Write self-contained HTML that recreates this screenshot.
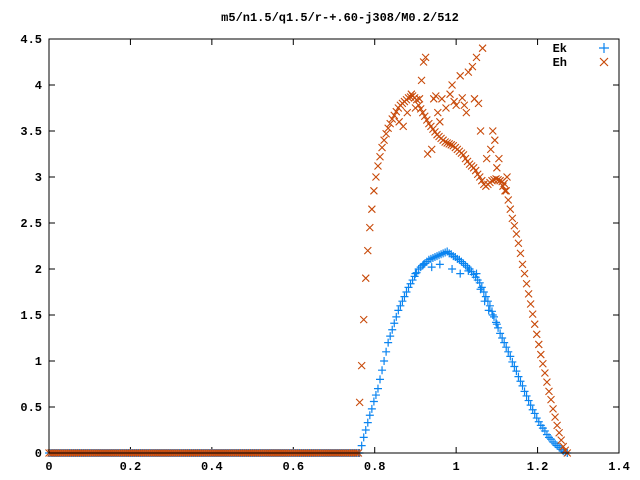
<!DOCTYPE html>
<html><head><meta charset="utf-8"><style>
body{margin:0;background:#fff;}
svg{display:block;font-family:"Liberation Mono",monospace;font-size:12px;font-weight:bold;}
</style></head><body>
<svg id="chart" width="640" height="480" viewBox="0 0 640 480" xmlns="http://www.w3.org/2000/svg">
<rect width="640" height="480" fill="#fff"/>
<text x="340" y="21" text-anchor="middle">m5/n1.5/q1.5/r-+.60-j308/M0.2/512</text>
<g id="axes"></g>
<g id="marks"></g>
<rect x="49" y="39" width="570" height="414" fill="none" stroke="#000" stroke-width="1"/>
<g>
<text x="567" y="52" text-anchor="end">Ek</text>
<text x="567" y="66" text-anchor="end">Eh</text>
<path d="M599,48h10M604,43v10" stroke="#0a84f0" stroke-width="1.2"/>
<path d="M600,58l8,8M600,66l8,-8" stroke="#c84a0a" stroke-width="1.2"/>
</g>
</svg>
<script>
const xTicks=[0,0.2,0.4,0.6,0.8,1,1.2,1.4];
const xTickLabels=["0","0.2","0.4","0.6","0.8","1","1.2","1.4"];
const yTicks=[0,0.5,1,1.5,2,2.5,3,3.5,4,4.5];
const yTickLabels=["0","0.5","1","1.5","2","2.5","3","3.5","4","4.5"];
const zeroX=[0,0.005,0.01,0.015,0.02,0.025,0.03,0.035,0.04,0.045,0.05,0.055,0.06,0.065,0.07,0.075,0.08,0.085,0.09,0.095,0.1,0.105,0.11,0.115,0.12,0.125,0.13,0.135,0.14,0.145,0.15,0.155,0.16,0.165,0.17,0.175,0.18,0.185,0.19,0.195,0.2,0.205,0.21,0.215,0.22,0.225,0.23,0.235,0.24,0.245,0.25,0.255,0.26,0.265,0.27,0.275,0.28,0.285,0.29,0.295,0.3,0.305,0.31,0.315,0.32,0.325,0.33,0.335,0.34,0.345,0.35,0.355,0.36,0.365,0.37,0.375,0.38,0.385,0.39,0.395,0.4,0.405,0.41,0.415,0.42,0.425,0.43,0.435,0.44,0.445,0.45,0.455,0.46,0.465,0.47,0.475,0.48,0.485,0.49,0.495,0.5,0.505,0.51,0.515,0.52,0.525,0.53,0.535,0.54,0.545,0.55,0.555,0.56,0.565,0.57,0.575,0.58,0.585,0.59,0.595,0.6,0.605,0.61,0.615,0.62,0.625,0.63,0.635,0.64,0.645,0.65,0.655,0.66,0.665,0.67,0.675,0.68,0.685,0.69,0.695,0.7,0.705,0.71,0.715,0.72,0.725,0.73,0.735,0.74,0.745,0.75,0.755,0.76];
const gridX0=0.763, gridStep=0.005;
const ekValues=[0,0.08,0.17,0.25,0.33,0.41,0.48,0.56,0.63,0.70,0.80,0.90,1.0,1.1,1.2,1.27,1.34,1.41,1.48,1.55,1.6,1.65,1.7,1.75,1.8,1.84,1.88,1.92,1.96,2.0,2.02,2.04,2.06,2.08,2.1,2.11,2.12,2.13,2.14,2.15,2.16,2.17,2.18,2.19,2.17,2.16,2.14,2.13,2.11,2.1,2.08,2.06,2.04,2.02,2.0,1.97,1.94,1.91,1.88,1.85,1.8,1.75,1.7,1.65,1.6,1.54,1.48,1.42,1.36,1.3,1.25,1.2,1.15,1.1,1.05,0.99,0.94,0.89,0.83,0.78,0.73,0.67,0.62,0.57,0.52,0.47,0.43,0.38,0.34,0.3,0.27,0.24,0.2,0.17,0.15,0.12,0.1,0.08,0.06,0.04,0.02,0.01,0];
const ekExtraX=[0.9,0.92,0.94,0.96,0.99,1.01,1.03,1.05,1.06,1.07,1.08,1.09,1.1];
const ekExtraY=[1.95,2.05,2.02,2.05,2.0,1.95,1.98,1.95,1.78,1.65,1.55,1.5,1.4];
const ehValues=[0.55,0.95,1.45,1.9,2.2,2.45,2.65,2.85,3.0,3.12,3.22,3.32,3.4,3.47,3.53,3.58,3.63,3.67,3.71,3.75,3.78,3.8,3.82,3.84,3.86,3.87,3.88,3.86,3.84,3.78,3.74,3.7,3.66,3.62,3.58,3.55,3.52,3.49,3.46,3.44,3.42,3.4,3.38,3.37,3.36,3.35,3.34,3.32,3.3,3.28,3.26,3.24,3.2,3.17,3.14,3.12,3.1,3.07,3.03,3.0,2.96,2.92,2.9,2.92,2.94,2.96,2.97,2.98,2.97,2.96,2.95,2.93,2.85,2.75,2.65,2.55,2.47,2.38,2.28,2.17,2.05,1.95,1.84,1.73,1.62,1.51,1.4,1.29,1.18,1.07,0.97,0.87,0.77,0.67,0.58,0.48,0.39,0.3,0.22,0.14,0.07,0.03,0];
const ehExtraX=[0.86,0.87,0.88,0.89,0.9,0.91,0.915,0.92,0.925,0.93,0.94,0.945,0.95,0.955,0.96,0.965,0.975,0.985,0.99,0.995,1.0,1.01,1.015,1.02,1.025,1.03,1.04,1.045,1.05,1.055,1.065,1.06,1.075,1.085,1.09,1.095,1.1,1.105,1.115,1.12,1.125];
const ehExtraY=[3.6,3.55,3.7,3.9,3.75,3.85,4.05,4.25,4.3,3.25,3.3,3.85,3.88,3.7,3.6,3.85,3.75,3.9,4.0,3.82,3.78,4.1,3.86,3.78,3.7,4.14,4.2,3.85,4.3,3.8,4.4,3.5,3.2,3.3,3.5,3.4,3.1,3.2,2.9,2.85,3.0];

const NS="http://www.w3.org/2000/svg";
const L=49,R=619,T=39,B=453;
function xs(v){return L+(v/1.4)*(R-L);}
function ys(v){return B-(v/4.5)*(B-T);}
const axes=document.getElementById('axes');
const marks=document.getElementById('marks');
function mk(tag,attrs,parent){const e=document.createElementNS(NS,tag);for(const k in attrs)e.setAttribute(k,attrs[k]);parent.appendChild(e);return e;}
xTicks.forEach((v,i)=>{
  const x=xs(v);
  const t=mk('path',{d:`M${x},${B}v-6M${x},${T}v6`,stroke:'#000'},axes);
  
  
  const lb=mk('text',{x:x,y:B+17,'text-anchor':'middle'},axes);
  lb.textContent=xTickLabels[i];
  
  
});
yTicks.forEach((v,i)=>{
  const y=ys(v);
  const t=mk('path',{d:`M${L},${y}h6M${R},${y}h-6`,stroke:'#000'},axes);
  
  
  const lb=mk('text',{x:L-7,y:y+4,'text-anchor':'end'},axes);
  lb.textContent=yTickLabels[i];
  
  
});
function plus(x,y,name){
  const p=mk('path',{d:`M${xs(x)-4},${ys(y)}h8M${xs(x)},${ys(y)-4}v8`,stroke:'#0a84f0','stroke-width':1.2},marks);
  
  
}
function cross(x,y,name){
  const X=xs(x),Y=ys(y);
  const p=mk('path',{d:`M${X-3.5},${Y-3.5}l7,7M${X-3.5},${Y+3.5}l7,-7`,stroke:'#c84a0a','stroke-width':1.1},marks);
  
  
}
zeroX.forEach(x=>plus(x,0,'ek-point'));
ekValues.forEach((v,i)=>plus(gridX0+i*gridStep,v,'ek-point'));
ekExtraX.forEach((x,i)=>plus(x,ekExtraY[i],'ek-point'));
zeroX.forEach(x=>cross(x,0,'eh-point'));
ehValues.forEach((v,i)=>cross(gridX0+i*gridStep,v,'eh-point'));
ehExtraX.forEach((x,i)=>cross(x,ehExtraY[i],'eh-point'));
</script>
</body></html>
